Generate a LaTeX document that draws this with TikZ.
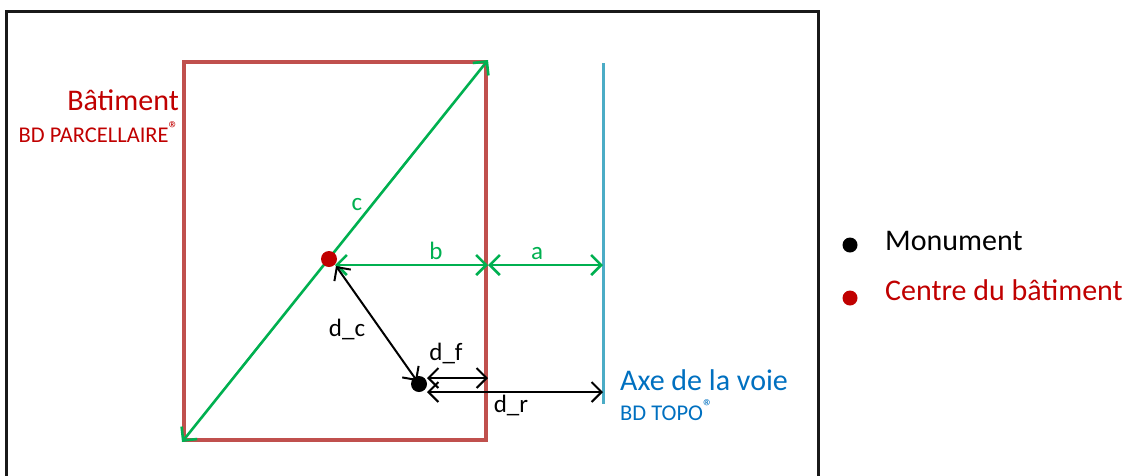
\documentclass[tikz,border=0pt]{standalone}
\usepackage{fontspec}
\setmainfont{Carlito}
\usetikzlibrary{arrows.meta}
\definecolor{batred}{HTML}{C0504D}
\definecolor{txtred}{HTML}{C00000}
\definecolor{grn}{HTML}{00B050}
\definecolor{axeblue}{HTML}{4BACC6}
\definecolor{txtblue}{HTML}{0070C0}
\newcommand{\regmark}{\raisebox{0.3em}{\fontsize{20}{20}\selectfont ®}}
\tikzset{
  big/.style={font=\fontsize{30}{36}\selectfont},
  small/.style={font=\fontsize{22.5}{26}\selectfont},
  lbl/.style={font=\fontsize{25}{30}\selectfont, anchor=base, inner sep=0pt},
  garrow/.style={draw=grn, line width=2.6pt, {Straight Barb[length=10pt,width=20pt]}-{Straight Barb[length=10pt,width=20pt]}},
  karrow/.style={draw=black, line width=2pt, {Straight Barb[length=10pt,width=20pt]}-{Straight Barb[length=10pt,width=20pt]}},
  dot/.style={circle, inner sep=0pt, minimum size=16pt},
}
\begin{document}
\begin{tikzpicture}[x=1pt,y=-1pt]
\useasboundingbox (0,0) rectangle (1138,475);
% frame
\draw[line width=3pt, black!90] (6.5,476) -- (6.5,11) -- (818,11) -- (818,476);
% building
\node[draw=batred, line width=4pt, minimum width=302pt, minimum height=378pt, inner sep=0pt] (bat) at (335,251) {};
% road axis
\coordinate (axetop) at (603,63);
\coordinate (axebot) at (603,404);
\draw[axeblue, line width=3pt] (axetop) -- (axebot);
% diagonal
\draw[garrow] (bat.south west) -- (bat.north east);
% centre and monument
\node[dot, fill=txtred] (ctr) at (329,259) {};
\node[dot, fill=black] (mon) at (419,384) {};
\coordinate (bb) at (bat.east |- 0,265);
\coordinate (ab) at (603,265);
\coordinate (ctrR) at (335,265);
\draw[garrow] (ctrR) -- (bb);
\draw[garrow] (bb) -- (ab);
% monument arrows
\coordinate (dcS) at (336,266);
\coordinate (dcE) at (417,381);
\draw[karrow] (dcS) -- (dcE);
\coordinate (dfS) at (427,378);
\coordinate (dfE) at (bat.east |- 0,378);
\draw[karrow] (dfS) -- (dfE);
\coordinate (drS) at (427,392);
\coordinate (drE) at (axetop |- 0,392);
\draw[karrow] (drS) -- (drE);
% labels
\node[lbl, text=grn] (lc) at (357,210) {c};
\node[lbl, text=grn] (lb) at (436,259) {b};
\node[lbl, text=grn] (la) at (537,259) {a};
\node[lbl] (ldc) at (347,336) {d\_c};
\node[lbl] (ldf) at (446,360) {d\_f};
\node[lbl] (ldr) at (511,412) {d\_r};
% building label
\node[big, text=txtred, anchor=base east, inner sep=0pt] (tbat) at (179,110) {Bâtiment};
\node[small, text=txtred, anchor=base east, inner sep=0pt] (tbd) at (179,142) {BD PARCELLAIRE\regmark};
% axis label
\node[big, text=txtblue, anchor=base west, inner sep=0pt] (taxe) at (620,390) {Axe de la voie};
\node[small, text=txtblue, anchor=base west, inner sep=0pt] (ttopo) at (620,420) {BD TOPO\regmark};
% legend
\node[dot, fill=black, minimum size=15pt] (lgm) at (850,245) {};
\node[big, anchor=base west, inner sep=0pt] (tmon) at (885,250.5) {Monument};
\node[dot, fill=txtred, minimum size=15pt] (lgc) at (850,298) {};
\node[big, text=txtred, anchor=base west, inner sep=0pt] (tcen) at (885,300.5) {Centre du bâtiment};
\end{tikzpicture}
\end{document}
